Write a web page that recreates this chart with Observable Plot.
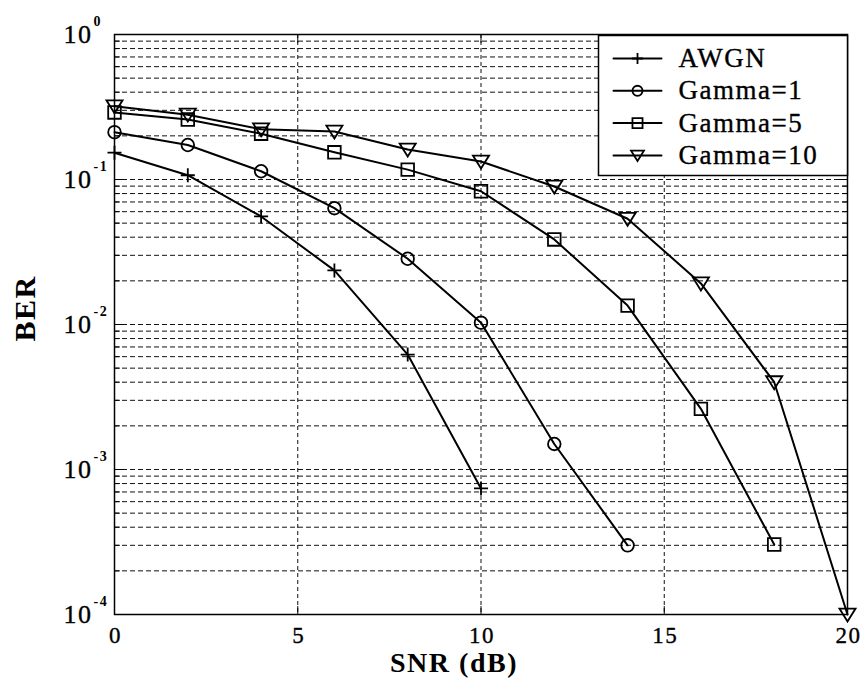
<!DOCTYPE html>
<html>
<head>
<meta charset="utf-8">
<script src="https://cdn.jsdelivr.net/npm/d3@7"></script>
<script src="https://cdn.jsdelivr.net/npm/@observablehq/plot@0.6"></script>
<style>
  html, body { margin: 0; padding: 0; background: #fff; }
  #chart svg { display: block; }
  #chart svg text { letter-spacing: 1.5px; }
</style>
</head>
<body>
<div id="chart"></div>
<script>
// ---- data ----
const snr = [0, 2, 4, 6, 8, 10, 12, 14, 16, 18, 20];
const seriesNames = ["AWGN", "Gamma=1", "Gamma=5", "Gamma=10"];
const awgn    = [0.153, 0.107, 0.0556, 0.0236, 0.0062, 0.00074];
const gamma1  = [0.212, 0.173, 0.114, 0.0634, 0.0284, 0.0103, 0.0015, 0.00030];
const gamma5  = [0.29, 0.259, 0.207, 0.154, 0.117, 0.083, 0.0386, 0.0135, 0.00262, 0.000304];
const gamma10 = [0.32, 0.28, 0.222, 0.214, 0.161, 0.133, 0.0895, 0.0536, 0.0192, 0.0040, 0.0001];
const xTicks = [0, 5, 10, 15, 20];
const xGridTicks = [5, 10, 15];
const yMajor = [1, 0.1, 0.01, 0.001, 0.0001];
const yExp = ["0", "-1", "-2", "-3", "-4"];

// ---- build tables ----
const seriesValues = [awgn, gamma1, gamma5, gamma10];
const rows = [];
seriesValues.forEach((vals, i) => vals.forEach((v, j) => rows.push({series: seriesNames[i], snr: snr[j], ber: v})));
const yMinor = [];
for (const d of yMajor.slice(1)) for (let m = 1; m <= 9; m++) yMinor.push(m * d);
const yGrid = yMinor.filter(v => v > 0.0001 * 1.0001 && v < 0.9999);

// ---- custom symbols ----
const R = s => Math.sqrt(s / Math.PI);
const symPlus = {draw(c, s) { const r = R(s); c.moveTo(-r, 0); c.lineTo(r, 0); c.moveTo(0, -r); c.lineTo(0, r); }};
const symCircle = {draw(c, s) { const r = R(s); c.moveTo(r, 0); c.arc(0, 0, r, 0, 2 * Math.PI); c.closePath(); }};
const symSquare = {draw(c, s) { const r = R(s); c.rect(-r, -r, 2 * r, 2 * r); }};
const symTriDown = {draw(c, s) { const r = R(s); c.moveTo(-1.15 * r, -0.85 * r); c.lineTo(1.15 * r, -0.85 * r); c.lineTo(0, 1.0 * r); c.closePath(); }};
const symbols = [symPlus, symCircle, symSquare, symTriDown];
const radii = [7, 6.3, 6.3, 7];
const tickShape = {draw(c, l) { c.moveTo(0, 0); c.lineTo(0, -l); }};

const font = "'Liberation Serif', 'Times New Roman', serif";
const txt = {fontFamily: font, fill: "black", stroke: "black", strokeWidth: 0.35};

const marks = [];
// grid
marks.push(Plot.ruleY(yGrid, {y: d => d, stroke: "#111", strokeWidth: 1, strokeDasharray: "5,3"}));
marks.push(Plot.ruleX(xGridTicks, {x: d => d, stroke: "#111", strokeWidth: 1, strokeDasharray: "4,3"}));
// tick marks (inward)
marks.push(Plot.vector(yMinor.filter(v => v < 0.9999), {y: d => d, frameAnchor: "left", length: 5, rotate: 90, anchor: "start", shape: tickShape, stroke: "black", strokeWidth: 1}));
marks.push(Plot.vector(yMinor.filter(v => v < 0.9999), {y: d => d, frameAnchor: "right", length: 5, rotate: -90, anchor: "start", shape: tickShape, stroke: "black", strokeWidth: 1}));
marks.push(Plot.vector(yMajor, {y: d => d, frameAnchor: "left", length: 9, rotate: 90, anchor: "start", shape: tickShape, stroke: "black", strokeWidth: 1}));
marks.push(Plot.vector(yMajor, {y: d => d, frameAnchor: "right", length: 9, rotate: -90, anchor: "start", shape: tickShape, stroke: "black", strokeWidth: 1}));
marks.push(Plot.vector(xTicks, {x: d => d, frameAnchor: "bottom", length: 8, rotate: 0, anchor: "start", shape: tickShape, stroke: "black", strokeWidth: 1}));
marks.push(Plot.vector(xTicks, {x: d => d, frameAnchor: "top", length: 8, rotate: 180, anchor: "start", shape: tickShape, stroke: "black", strokeWidth: 1}));
// frame
marks.push(Plot.frame({stroke: "black", strokeWidth: 1.5}));
// data lines & markers
seriesNames.forEach((name, i) => {
  const data = rows.filter(d => d.series === name);
  marks.push(Plot.line(data, {x: "snr", y: "ber", stroke: "black", strokeWidth: 2}));
  marks.push(Plot.dot(data, {x: "snr", y: "ber", symbol: symbols[i], r: radii[i], stroke: "black", fill: "none", strokeWidth: 1.8}));
});
// tick labels
marks.push(Plot.text(yMajor, {y: d => d, frameAnchor: "left", text: () => "10", textAnchor: "end", dx: -22, lineAnchor: "middle", fontSize: 26, ...txt}));
marks.push(Plot.text(yMajor, {y: d => d, frameAnchor: "left", text: (d, i) => yExp[i], textAnchor: "start", dx: -21, dy: -13, lineAnchor: "middle", fontSize: 14, fontWeight: "bold", fontFamily: font, fill: "black"}));
marks.push(Plot.text(xTicks, {x: d => d, frameAnchor: "bottom", text: d => String(d), textAnchor: "middle", dx: 1, dy: 21.5, lineAnchor: "middle", fontSize: 23, ...txt}));
// axis titles
marks.push(Plot.text(["SNR (dB)"], {frameAnchor: "bottom", text: d => d, dx: -27, dy: 49, lineAnchor: "middle", fontSize: 28, fontWeight: "bold", fontFamily: font, fill: "black"}));
marks.push(Plot.text(["BER"], {frameAnchor: "left", text: d => d, rotate: -90, dx: -89, dy: 17, lineAnchor: "middle", fontSize: 30, fontWeight: "bold", fontFamily: font, fill: "black"}));
// legend
marks.push(Plot.frame({fill: "white", stroke: "black", strokeWidth: 1.5, insetLeft: 484, insetBottom: 439, insetTop: 1}));
seriesNames.forEach((name, i) => {
  const dy = 24 + 32.3 * i;
  marks.push(Plot.vector([name], {frameAnchor: "top-left", dx: 499, dy, length: 48, rotate: 90, anchor: "start", shape: tickShape, stroke: "black", strokeWidth: 2}));
  marks.push(Plot.dot([name], {frameAnchor: "top-left", dx: 523, dy, symbol: symbols[i], r: radii[i] * 0.8, stroke: "black", fill: "none", strokeWidth: 1.8}));
  marks.push(Plot.text([name], {frameAnchor: "top-left", dx: 564, dy, text: d => d, textAnchor: "start", lineAnchor: "middle", fontSize: 27, ...txt}));
});

const chart = Plot.plot({
  width: 864,
  height: 682,
  marginTop: 34,
  marginRight: 17,
  marginBottom: 68,
  marginLeft: 114,
  style: {background: "white", fontFamily: font},
  x: {domain: [0, 20], axis: null},
  y: {type: "log", domain: [0.0001, 1], axis: null},
  marks
});
document.getElementById("chart").appendChild(chart);
</script>
</body>
</html>
